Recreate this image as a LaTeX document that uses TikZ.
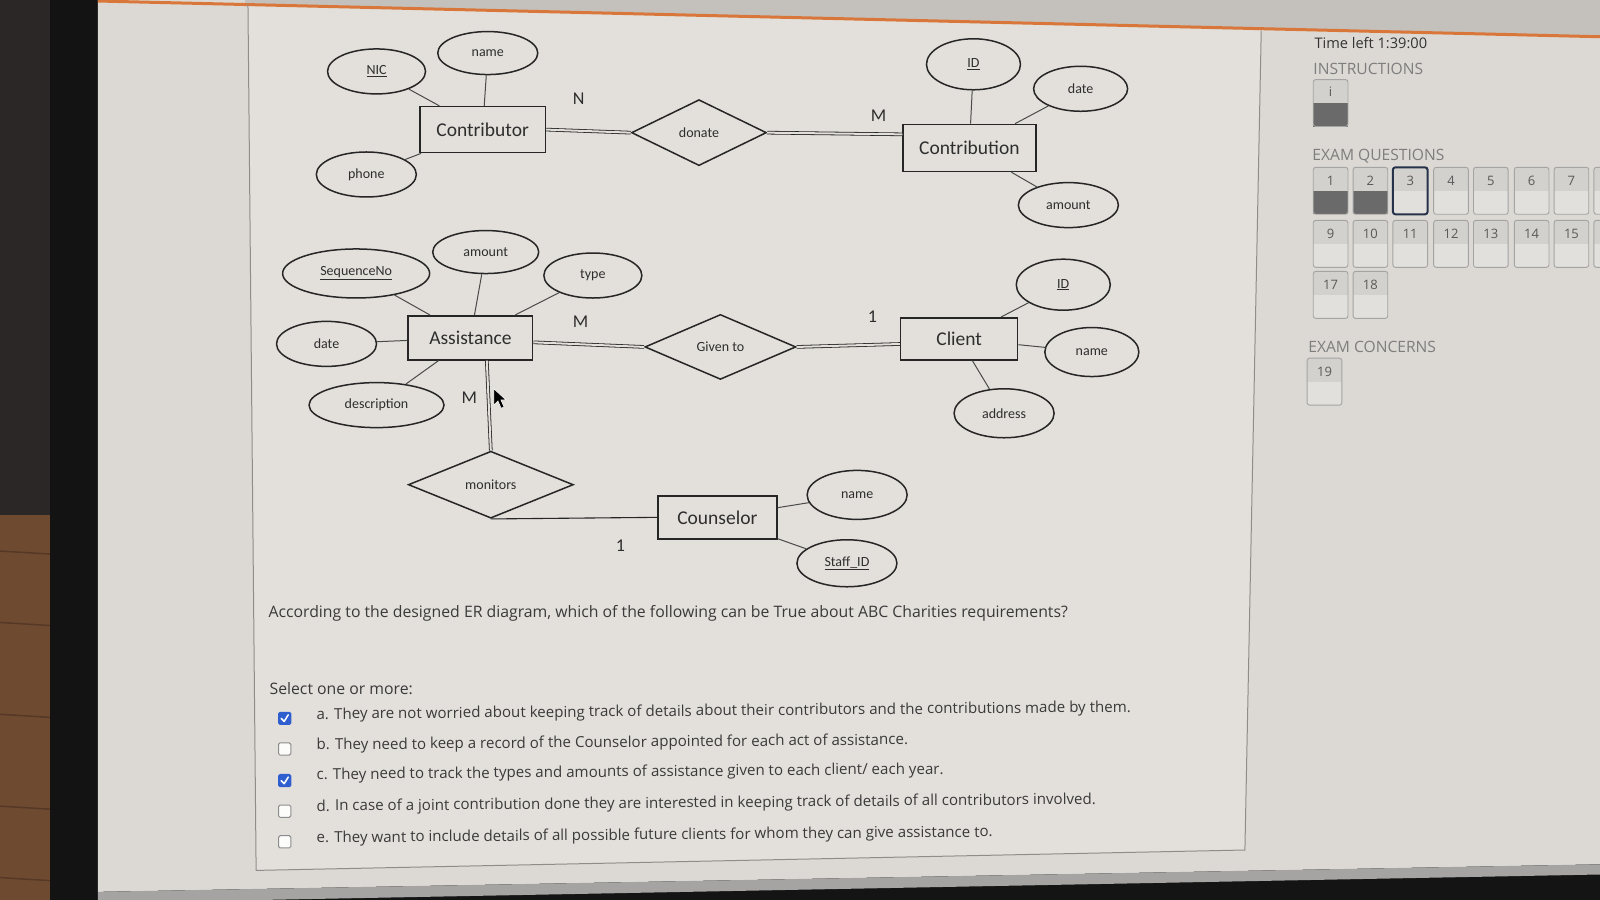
\documentclass[tikz,border=0pt]{standalone}
\usepackage{fontspec}
\setmainfont{Open Sans}
\newfontfamily\erfont{Carlito}
\usetikzlibrary{shapes.geometric,calc}

\definecolor{ink}{HTML}{262626}
\definecolor{lnk}{HTML}{4a4a4a}
\definecolor{txt}{HTML}{2E2E2E}
\definecolor{paper}{HTML}{E3E0DB}
\definecolor{screen}{HTML}{DCD9D4}
\definecolor{hdr}{HTML}{C4C1BC}
\definecolor{strip}{HTML}{A6A4A2}
\definecolor{bezel}{HTML}{131313}
\definecolor{wall}{HTML}{2B2726}
\definecolor{wood}{HTML}{6E4A31}
\definecolor{woodd}{HTML}{553826}
\definecolor{orng}{HTML}{D9773A}
\definecolor{frame}{HTML}{8F8D8A}
\definecolor{qtxt}{HTML}{3A3A3A}
\definecolor{side}{HTML}{7E7E7E}
\definecolor{boxtop}{HTML}{D3D1CD}
\definecolor{boxbot}{HTML}{E2E0DC}
\definecolor{boxdone}{HTML}{6A6A6A}
\definecolor{boxline}{HTML}{A4A4A4}
\definecolor{navy}{HTML}{25324A}
\definecolor{chk}{HTML}{2F5FCF}

\begin{document}
\begin{tikzpicture}[x=1.0204pt,y=-1.0204pt,
  ent/.style={draw=ink,line width=1.6pt,rectangle,inner sep=0pt,
    font=\erfont\fontsize{19.5}{22}\selectfont,text=txt},
  attr/.style={draw=ink,line width=1.5pt,ellipse,inner sep=0pt,
    font=\erfont\fontsize{14}{16}\selectfont,text=txt},
  rel/.style={draw=ink,line width=1.5pt,diamond,inner sep=0pt,
    font=\erfont\fontsize{14}{16}\selectfont,text=txt},
  sz/.style 2 args={minimum width=#1pt,minimum height=#2pt},
  conn/.style={draw=lnk,line width=1pt},
  dbl/.style={draw=ink,double=paper,double distance=2pt,line width=0.8pt},
  card/.style={font=\erfont\fontsize{18}{20}\selectfont,text=txt},
  qline/.style={anchor=west,font=\fontsize{15.8}{18}\selectfont,text=qtxt,inner sep=0pt},
  opt/.style={anchor=west,font=\fontsize{15.1}{17}\selectfont,text=qtxt,rotate=0.5,inner sep=0pt},
  cbox/.style={draw=#1,line width=1pt,rounded corners=1.5pt},
  navbox/.style={draw=boxline,line width=0.9pt,rounded corners=2.5pt},
  navnum/.style={font=\fontsize{13}{15}\selectfont,text=black!65},
  sidehead/.style={anchor=west,font=\fontsize{15.6}{18}\selectfont,text=side,inner sep=0pt},
]
\useasboundingbox (0,0) rectangle (1568,882);
\clip (0,0) rectangle (1568,882);

% ---------- surroundings of the monitor ----------
\fill[black!92] (0,0) rectangle (1568,882);
\fill[wall] (0,0) rectangle (49,882);
\fill[wood] (0,505) rectangle (49,882);
\foreach \yy in {540,610,700,790,860}
  \draw[woodd,line width=1.5pt] (0,\yy) -- (49,\yy+3);
\fill[bezel] (49,0) rectangle (96,882);
\fill[screen] (96,0) -- (1568,0) -- (1568,847) -- (96,874) -- cycle;
\fill[strip] (96,874) -- (1568,847) -- (1568,857) -- (96,885) -- cycle;
\fill[hdr] (240,0) -- (1568,0) -- (1568,36) -- (240,6) -- cycle;
\fill[paper] (243,5) -- (1236,30) -- (1220,833) -- (251,853) -- cycle;
\draw[orng,line width=3pt] (96,1) -- (1568,36);
\draw[frame,line width=1pt] (243,4) -- (251,853) -- (1220,833) -- (1236,30);

% ---------- Contributor / donate / Contribution ----------
\node[ent,sz={125.5}{46}] (ctr) at (473,127) {Contributor};
\node[attr,sz={98}{45}] (nic) at (369,70) {\underline{NIC}};
\node[attr,sz={100}{43}] (cname) at (478,52) {name};
\node[attr,sz={100}{45}] (phone) at (359,171) {phone};
\node[rel,sz={135}{66}] (don) at (685,130) {donate};
\node[ent,sz={132.6}{47}] (ctb) at (950,145) {Contribution};
\node[attr,sz={94}{51}] (cid) at (954,63) {\underline{ID}};
\node[attr,sz={94}{45}] (cdate) at (1059,87) {date};
\node[attr,sz={100}{45}] (camt) at (1047,201) {amount};

\draw[conn] (nic) -- (ctr);
\draw[conn] (cname) -- (ctr);
\draw[conn] (phone) -- (ctr);
\draw[conn] (cid) -- (ctb);
\draw[conn] (cdate) -- (ctb);
\draw[conn] (camt) -- (ctb);
\draw[dbl] (ctr.east) -- (don.west);
\draw[dbl] (don.east) -- ($(ctb.north west)!0.22!(ctb.south west)$);
\node[card] (cN) at (567,97) {N};
\node[card] (cM1) at (861,113) {M};

% ---------- Assistance / Given to / Client ----------
\node[ent,sz={124.5}{44}] (as) at (461,331) {Assistance};
\node[attr,sz={147}{49}] (seq) at (349,268) {\underline{SequenceNo}};
\node[attr,sz={106}{43}] (aamt) at (476,247) {amount};
\node[attr,sz={98}{45}] (atype) at (581,270) {type};
\node[attr,sz={100}{45}] (adate) at (320,337) {date};
\node[attr,sz={135}{45}] (adesc) at (369,397) {description};
\node[rel,sz={151}{65}] (giv) at (706,340) {Given to};
\node[ent,sz={117}{42}] (cli) at (940,332) {Client};
\node[attr,sz={94}{51}] (clid) at (1042,279) {\underline{ID}};
\node[attr,sz={94}{49}] (clname) at (1070,345) {name};
\node[attr,sz={100}{49}] (cladr) at (984,405) {address};

\draw[conn] (seq) -- (as);
\draw[conn] (aamt) -- (as);
\draw[conn] (atype) -- (as);
\draw[conn] (adate) -- (as);
\draw[conn] (adesc) -- (as);
\draw[conn] (clid) -- (cli);
\draw[conn] (clname) -- (cli);
\draw[conn] (cladr) -- (cli);
\draw[dbl] ($(as.north east)!0.6!(as.south east)$) -- (giv.west);
\draw[dbl] (giv.east) -- ($(cli.north west)!0.62!(cli.south west)$);
\node[card] (cM2) at (569,315) {M};
\node[card] (c11) at (855,310) {1};

% ---------- monitors / Counselor ----------
\node[rel,sz={165}{67}] (mon) at (481,475) {monitors};
\node[ent,sz={119}{43}] (cou) at (703,507) {Counselor};
\node[attr,sz={100}{49}] (couname) at (840,485) {name};
\node[attr,sz={100}{47}] (staff) at (830,552) {\underline{Staff\_ID}};

\draw[dbl] ($(as.south west)!0.63!(as.south east)$) -- (mon.north);
\draw[conn,draw=ink,line width=1.1pt] (mon.south) -- (cou.west);
\draw[conn] (couname) -- (cou);
\draw[conn] (staff) -- (cou);
\node[card] (cM3) at (460,390) {M};
\node[card] (c12) at (608,535) {1};

% mouse pointer
\filldraw[fill=black,draw=white,line width=0.6pt]
  (484,381) -- (484,397) -- (488,393) -- (491,400) -- (494,399) -- (491,392) -- (496,392) -- cycle;

% ---------- question ----------
\node[qline] (q) at (263,601)
  {According to the designed ER diagram, which of the following can be True about ABC Charities requirements?};
\node[qline] (sel) at (264,675) {Select one or more:};

\node[opt] (oa) at (310,701) {a. They are not worried about keeping track of details about their contributors and the contributions made by them.};
\node[opt] (ob) at (310,731) {b. They need to keep a record of the Counselor appointed for each act of assistance.};
\node[opt] (oc) at (310,760) {c. They need to track the types and amounts of assistance given to each client/ each year.};
\node[opt] (od) at (310,791) {d. In case of a joint contribution done they are interested in keeping track of details of all contributors involved.};
\node[opt] (oe) at (310,822) {e. They want to include details of all possible future clients for whom they can give assistance to.};

% check boxes
\foreach \yy in {704,765} {
  \filldraw[cbox=chk,fill=chk] (273,\yy-6) rectangle (285,\yy+6);
  \draw[white,line width=1.5pt,line cap=round,line join=round]
    (275.5,\yy) -- (278.5,\yy+3) -- (282.5,\yy-3.5);
}
\foreach \yy in {734,795,825}
  \filldraw[cbox=black!45,fill=white!90!paper] (273,\yy-6) rectangle (285,\yy+6);

% ---------- navigation side bar ----------
\node[anchor=west,font=\fontsize{14.6}{17}\selectfont,text=black!80,inner sep=0pt] (tl) at (1288,42) {Time left 1:39:00};
\node[sidehead] (hi) at (1287,68) {INSTRUCTIONS};
\node[sidehead] (hq) at (1286,153) {EXAM QUESTIONS};
\node[sidehead] (hc) at (1282,340) {EXAM CONCERNS};

% instructions tile
\fill[boxtop] (1287,78) rectangle (1321,101);
\fill[boxdone] (1287,101) rectangle (1321,124);
\draw[navbox] (1287,78) rectangle (1321,124);
\node[navnum] (ti) at (1304,90) {i};

% question tiles: number / left x / top y / state
\foreach \n/\xx/\yy/\st in {
  1/1287/164/2, 2/1326/164/2, 3/1365/164/1, 4/1405/164/0, 5/1444/164/0,
  6/1484/164/0, 7/1523/164/0,
  9/1287/216/0, 10/1326/216/0, 11/1365/216/0, 12/1405/216/0, 13/1444/216/0,
  14/1484/216/0, 15/1523/216/0,
  17/1287/266/0, 18/1326/266/0, 19/1281/351/0} {
  \fill[boxtop] (\xx,\yy) rectangle (\xx+34,\yy+23);
  \ifnum\st=2
    \fill[boxdone] (\xx,\yy+23) rectangle (\xx+34,\yy+46);
  \else
    \fill[boxbot] (\xx,\yy+23) rectangle (\xx+34,\yy+46);
  \fi
  \ifnum\st=1
    \draw[navy,line width=2pt,rounded corners=2.5pt] (\xx,\yy) rectangle (\xx+34,\yy+46);
  \else
    \draw[navbox] (\xx,\yy) rectangle (\xx+34,\yy+46);
  \fi
  \node[navnum] at (\xx+17,\yy+13) {\n};
}
% tiles cut by the screen edge
\foreach \yy in {164,216} {
  \fill[boxtop] (1562,\yy) rectangle (1596,\yy+23);
  \fill[boxbot] (1562,\yy+23) rectangle (1596,\yy+46);
  \draw[navbox] (1562,\yy) rectangle (1596,\yy+46);
}
\end{tikzpicture}
\end{document}
